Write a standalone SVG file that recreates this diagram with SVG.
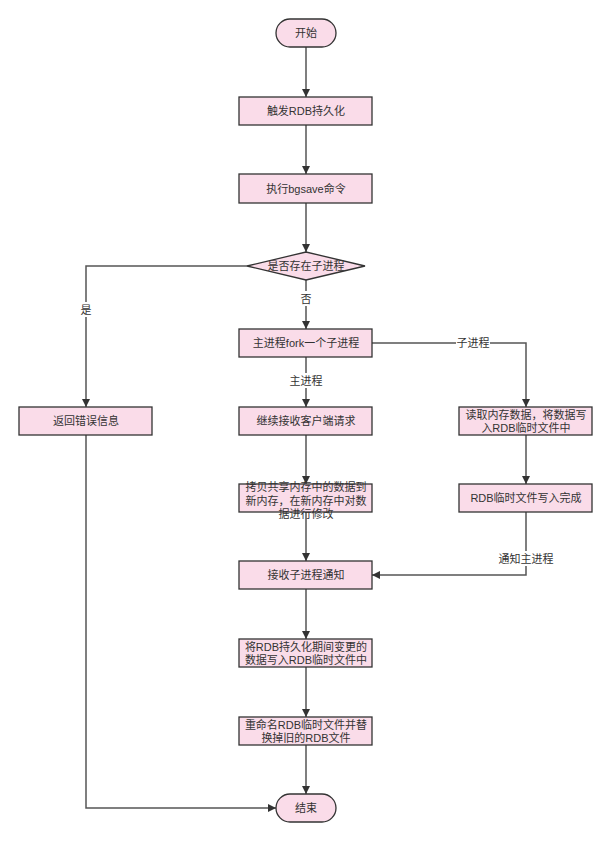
<svg xmlns="http://www.w3.org/2000/svg" width="612" height="842" viewBox="0 0 612 842">
<style>
.n{fill:#fadce9;stroke:#333;stroke-width:1.3}
.t{font-family:"Liberation Sans","Noto Sans CJK SC",sans-serif;font-size:11px;fill:#333;text-anchor:middle;dominant-baseline:central}
.c{fill:none;stroke:#555;stroke-width:1.5}
.lb{fill:#fff}
</style>
<defs>
<marker id="a" viewBox="0 0 10 10" refX="10" refY="5" markerWidth="8" markerHeight="8" markerUnits="userSpaceOnUse" orient="auto">
<path d="M0,0 L10,5 L0,10 z" fill="#333"/>
</marker>
</defs>
<rect width="612" height="842" fill="#fff"/>
<g id="connectors">
<path class="c" d="M306,47 V97" marker-end="url(#a)"/>
<path class="c" d="M306,125 V174" marker-end="url(#a)"/>
<path class="c" d="M306,203 V252" marker-end="url(#a)"/>
<path class="c" d="M247,266 H86 V407" marker-end="url(#a)"/>
<path class="c" d="M306,280 V329" marker-end="url(#a)"/>
<path class="c" d="M372,343 H526 V407" marker-end="url(#a)"/>
<path class="c" d="M306,357 V407" marker-end="url(#a)"/>
<path class="c" d="M306,435 V484" marker-end="url(#a)"/>
<path class="c" d="M526,435 V484" marker-end="url(#a)"/>
<path class="c" d="M306,512 V561" marker-end="url(#a)"/>
<path class="c" d="M526,512 V575 H372" marker-end="url(#a)"/>
<path class="c" d="M306,589 V639" marker-end="url(#a)"/>
<path class="c" d="M306,667 V717" marker-end="url(#a)"/>
<path class="c" d="M306,745 V794" marker-end="url(#a)"/>
<path class="c" d="M86,435 V808 H276" marker-end="url(#a)"/>
<rect class="lb" x="80" y="302" width="12" height="15"/>
<text class="t" x="86" y="310">是</text>
<rect class="lb" x="300" y="291" width="12" height="15"/>
<text class="t" x="306" y="299">否</text>
<rect class="lb" x="456" y="336" width="34" height="15"/>
<text class="t" x="473" y="343">子进程</text>
<rect class="lb" x="289" y="373" width="34" height="15"/>
<text class="t" x="306" y="381">主进程</text>
<rect class="lb" x="498" y="551" width="56" height="15"/>
<text class="t" x="526" y="559">通知主进程</text>
</g>
<g id="start"><rect class="n" x="276" y="19" width="60" height="28" rx="14"/><text class="t" x="306" y="33">开始</text></g>
<g id="trigger"><rect class="n" x="239" y="97" width="133" height="28"/><text class="t" x="306" y="111">触发RDB持久化</text></g>
<g id="bgsave"><rect class="n" x="239" y="174" width="133" height="29"/><text class="t" x="306" y="188.5">执行bgsave命令</text></g>
<g id="decision"><path class="n" d="M247,266 L306,252 L365,266 L306,280 z"/><text class="t" x="306" y="266">是否存在子进程</text></g>
<g id="error"><rect class="n" x="19" y="407" width="133" height="28"/><text class="t" x="86" y="421">返回错误信息</text></g>
<g id="fork"><rect class="n" x="239" y="329" width="133" height="28"/><text class="t" x="306" y="343">主进程fork一个子进程</text></g>
<g id="continue"><rect class="n" x="239" y="407" width="133" height="28"/><text class="t" x="306" y="421">继续接收客户端请求</text></g>
<g id="read"><rect class="n" x="459" y="407" width="133" height="28"/><text class="t" x="526" y="414.5">读取内存数据，将数据写</text><text class="t" x="526" y="427.5">入RDB临时文件中</text></g>
<g id="copy"><rect class="n" x="239" y="484" width="133" height="28"/><text class="t" x="306" y="487">拷贝共享内存中的数据到</text><text class="t" x="306" y="500.5">新内存，在新内存中对数</text><text class="t" x="306" y="514">据进行修改</text></g>
<g id="done"><rect class="n" x="459" y="484" width="133" height="28"/><text class="t" x="526" y="498">RDB临时文件写入完成</text></g>
<g id="receive"><rect class="n" x="239" y="561" width="133" height="28"/><text class="t" x="306" y="575">接收子进程通知</text></g>
<g id="write"><rect class="n" x="239" y="639" width="133" height="28"/><text class="t" x="306" y="646.5">将RDB持久化期间变更的</text><text class="t" x="306" y="660">数据写入RDB临时文件中</text></g>
<g id="rename"><rect class="n" x="239" y="717" width="133" height="28"/><text class="t" x="306" y="724.5">重命名RDB临时文件并替</text><text class="t" x="306" y="738">换掉旧的RDB文件</text></g>
<g id="end"><rect class="n" x="276" y="794" width="60" height="28" rx="14"/><text class="t" x="306" y="808">结束</text></g>
</svg>
